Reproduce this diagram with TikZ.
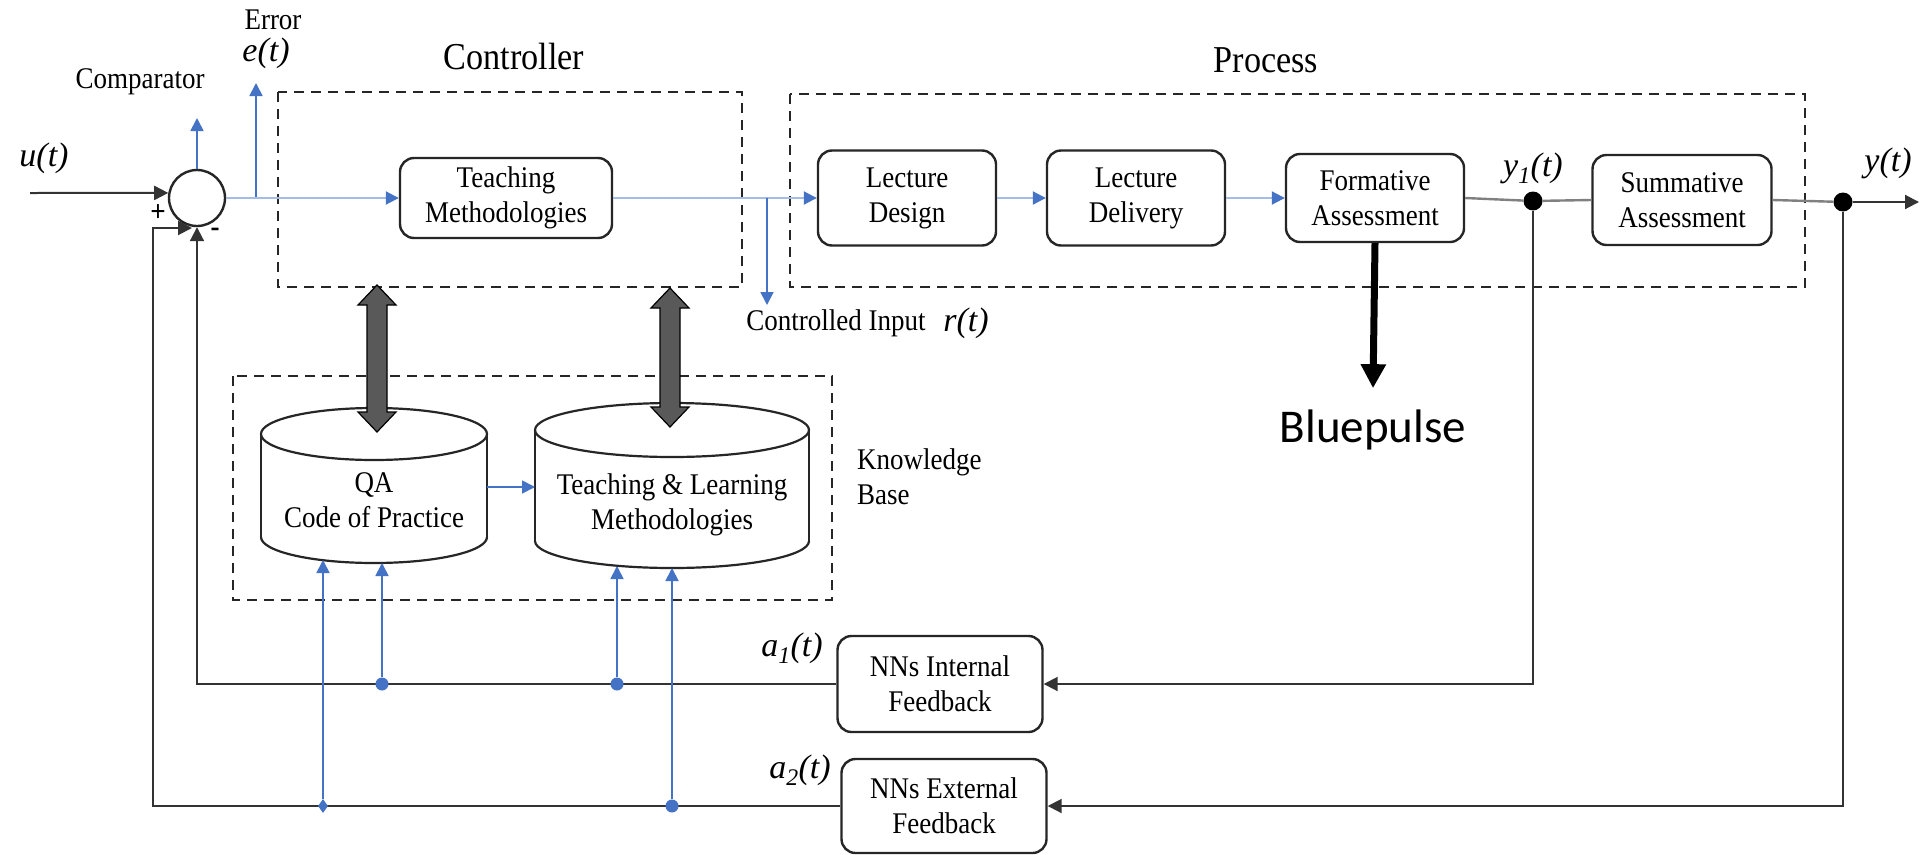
\documentclass[tikz,border=0pt]{standalone}
\usepackage{fontspec}
\setmainfont[FakeStretch=0.9]{Liberation Serif}
\newfontfamily\mathlabfont{Liberation Serif}
\newfontfamily\calibrifont{Carlito}
\usetikzlibrary{arrows.meta,shapes.geometric}
\definecolor{cblue}{HTML}{4472C4}
\definecolor{lblue}{HTML}{A4BCE6}
\definecolor{fatgray}{HTML}{595959}
\definecolor{lgray}{HTML}{808080}
\newcommand\txtfont{\fontsize{30}{35}\selectfont}
\newcommand\labfont{\mathlabfont\fontsize{34}{38}\selectfont\itshape}
\newcommand\hdfont{\fontsize{38}{42}\selectfont}
\newcommand\bpfont{\calibrifont\fontsize{47}{50}\selectfont}

\begin{document}
\begin{tikzpicture}[x=1pt,y=-1pt,
  box/.style={draw=black!85, rounded corners=14pt, line width=2.4pt, fill=white, align=center, font=\txtfont, inner sep=0pt},
  grp/.style={draw=black!85, line width=2pt, dash pattern=on 10pt off 7pt},
  bhead/.style={-{Triangle[length=13pt,width=13pt,color=cblue]}},
  bline/.style={draw=cblue, line width=1.8pt},
  fline/.style={draw=lblue, line width=2pt, bhead},
  karrow/.style={draw=black!80, line width=2pt, -{Triangle[length=14pt,width=14pt]}},
  gline/.style={draw=lgray, line width=2.4pt},
  lab/.style={font=\txtfont, inner sep=0pt},
  mlab/.style={font=\labfont, inner sep=0pt},
  bdot/.style={circle, fill=cblue, inner sep=0pt, minimum size=13pt},
  bdiam/.style={diamond, fill=cblue, inner sep=0pt, minimum width=10pt, minimum height=14pt},
  kdot/.style={circle, fill=black, inner sep=0pt, minimum size=19pt},
  fat/.style={fill=fatgray, draw=black, line width=1.2pt, line join=miter},
  cylline/.style={draw=black!85, line width=2.2pt}
]
\fill[white] (0,0) rectangle (1921,854);
\useasboundingbox (0,0) rectangle (1921,854);

% group frames
\draw[grp] (278,92) rectangle (742,287);
\draw[grp] (790,94) rectangle (1805,287);
\draw[grp] (233,376) rectangle (832,600);

% labels
\node[lab] (comp) at (140,82) {Comparator};
\node[lab] (err) at (273,20) {Error};
\node[mlab] (et) at (266,53) {e(t)};
\node[mlab] (ut) at (44,158) {u(t)};
\node[font=\hdfont] (ctl) at (514,57) {Controller};
\node[font=\hdfont] (prc) at (1266,60) {Process};
\node[mlab] (y1t) at (1533,168) {y\textsubscript{1}(t)};
\node[mlab] (yt) at (1888,163) {y(t)};
\node[lab] (cin) at (836,323) {Controlled Input};
\node[mlab] (rt) at (966,323) {r(t)};
\node[lab, align=left, anchor=west] (kb) at (857,477) {Knowledge\\Base};
\node[mlab] (a1t) at (792,648) {a\textsubscript{1}(t)};
\node[mlab] (a2t) at (800,770) {a\textsubscript{2}(t)};
\node[lab, font=\txtfont\bfseries] (plus) at (158,213) {+};
\node[lab, font=\txtfont\bfseries] (minus) at (215,232) {-};

% comparator and blocks
\node[circle, draw=black!85, line width=2.4pt, minimum size=56pt, inner sep=0pt] (cmp) at (197,198) {};
\node[box, minimum width=212pt, minimum height=80pt] (tm) at (506,198) {Teaching\\Methodologies};
\node[box, minimum width=178pt, minimum height=95pt] (ldes) at (907,198) {Lecture\\Design};
\node[box, minimum width=178pt, minimum height=95pt] (ldel) at (1136,198) {Lecture\\Delivery};
\node[box, minimum width=178pt, minimum height=88pt] (fa) at (1375,198) {Formative\\Assessment};
\node[box, minimum width=179pt, minimum height=90pt] (sa) at (1682,200) {Summative\\Assessment};
\node[box, minimum width=205pt, minimum height=96pt] (nni) at (940,684) {NNs Internal\\Feedback};
\node[box, minimum width=205pt, minimum height=94pt] (nne) at (944,806) {NNs External\\Feedback};

% forward path
\coordinate (uin) at (30,193);
\coordinate (cmpup) at (197,118);
\coordinate (ebr) at (256,198);
\coordinate (eup) at (256,83);
\coordinate (rbr) at (767,198);
\coordinate (rdn) at (767,305);
\coordinate (yout) at (1919,202);
\draw[karrow] (uin) -- (cmp.170);
\draw[bline, bhead] (cmp.north) -- (cmpup);
\draw[bline, bhead] (ebr) -- (eup);
\draw[fline] (cmp.east) -- (tm.west);
\draw[fline] (tm.east) -- (ldes.west);
\draw[bline, bhead] (rbr) -- (rdn);
\draw[fline] (ldes) -- (ldel);
\draw[fline] (ldel) -- (fa);
\node[kdot] (d1) at (1533,201) {};
\node[kdot] (d2) at (1843,202) {};
\draw[gline] (fa.east) -- (d1);
\draw[gline] (d1) -- (sa.west);
\draw[gline] (sa.east) -- (d2);
\draw[karrow] (d2) -- (yout);

% feedback loops
\coordinate (fbx) at (153,228);
\coordinate (fb2) at (192,228);
\draw[karrow] (d1) |- (nni.east);
\draw[karrow] (d2) |- (nne.east);
\draw[karrow] (nni.west) -| (cmp.south);
\draw[karrow] (nne.west) -| (fbx) -- (fb2);

% knowledge base cylinders
\fill[white] (261,434) rectangle (487,537);
\fill[white] (374,537) ellipse[x radius=113pt, y radius=26pt];
\begin{scope}
  \clip (250,537) rectangle (500,575);
  \draw[cylline] (374,537) ellipse[x radius=113pt, y radius=26pt];
\end{scope}
\draw[cylline] (261,434) -- (261,537);
\draw[cylline] (487,434) -- (487,537);
\draw[cylline, fill=white] (374,434) ellipse[x radius=113pt, y radius=26pt];
\node[lab, align=center] (qa) at (374,500) {QA\\Code of Practice};

\fill[white] (535,430) rectangle (809,541);
\fill[white] (672,541) ellipse[x radius=137pt, y radius=27pt];
\begin{scope}
  \clip (525,541) rectangle (820,580);
  \draw[cylline] (672,541) ellipse[x radius=137pt, y radius=27pt];
\end{scope}
\draw[cylline] (535,430) -- (535,541);
\draw[cylline] (809,430) -- (809,541);
\draw[cylline, fill=white] (672,430) ellipse[x radius=137pt, y radius=27pt];
\node[lab, align=center] (tl) at (672,505) {Teaching \& Learning\\Methodologies};

% taps from the feedback lines into the knowledge base
\node[bdot] (t1) at (382,684) {};
\node[bdot] (t2) at (617,684) {};
\node[bdot] (t3) at (672,806) {};
\node[bdiam] (t4) at (323,806) {};
\coordinate (qa1) at (323,560);
\coordinate (qa2) at (382,563);
\coordinate (tl1) at (617,566);
\coordinate (tl2) at (672,568);
\draw[bline, bhead] (t4) -- (qa1);
\draw[bline, bhead] (t1) -- (qa2);
\draw[bline, bhead] (t2) -- (tl1);
\draw[bline, bhead] (t3) -- (tl2);
\coordinate (qar) at (487,487);
\coordinate (tll) at (535,487);
\draw[bline, bhead] (qar) -- (tll);

% exchange between controller and knowledge base
\filldraw[fat] (377,285) -- (396,305) -- (387,305) -- (387,412) -- (396,412) -- (377,432)
  -- (358,412) -- (367,412) -- (367,305) -- (358,305) -- cycle;
\filldraw[fat] (670,288) -- (689,308) -- (680,308) -- (680,407) -- (689,407) -- (670,427)
  -- (651,407) -- (660,407) -- (660,308) -- (651,308) -- cycle;

% Bluepulse
\node[font=\bpfont, anchor=base, inner xsep=0pt, inner ysep=21pt] (bp) at (1373,442) {Bluepulse};
\draw[line width=7pt, -{Triangle[length=24pt,width=24pt]}] (fa.south) -- (bp.north);
\end{tikzpicture}
\end{document}
